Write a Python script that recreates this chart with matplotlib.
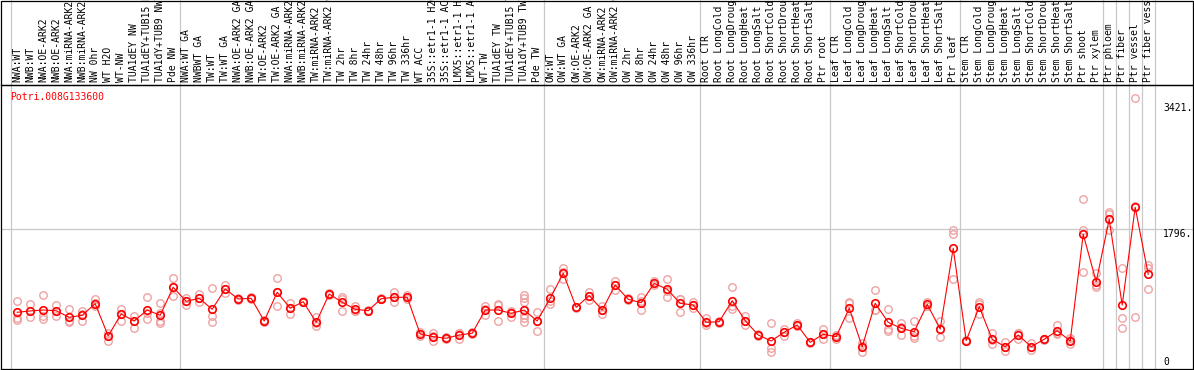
import numpy as np
import matplotlib
matplotlib.use("Agg")
import matplotlib.pyplot as plt
from matplotlib.patches import Rectangle

# sample labels, grouped by tissue block
labels = [
    "NWA:WT", "NWB:WT", "NWA:OE-ARK2", "NWB:OE-ARK2", "NWA:miRNA-ARK2",
    "NWB:miRNA-ARK2", "NW 0hr", "WT H2O", "WT-NW", "TUA1dEY NW",
    "TUA1dEY+TUB15 NW", "TUA1dY+TUB9 NW", "Pde NW",
    "NWA:WT GA", "NWBWT GA", "TW:WT", "TW:WT GA", "NWA:OE-ARK2 GA",
    "NWB:OE-ARK2 GA", "TW:OE-ARK2", "TW:OE-ARK2 GA", "NWA:miRNA-ARK2 GA",
    "NWB:miRNA-ARK2 GA", "TW:miRNA-ARK2", "TW:miRNA-ARK2 GA", "TW 2hr",
    "TW 8hr", "TW 24hr", "TW 48hr", "TW 96hr", "TW 336hr", "WT ACC",
    "35S::etr1-1 H2O", "35S::etr1-1 ACC", "LMX5::etr1-1 H2O",
    "LMX5::etr1-1 ACC", "WT-TW", "TUA1dEY TW", "TUA1dEY+TUB15 TW",
    "TUA1dY+TUB9 TW", "Pde TW",
    "OW:WT", "OW:WT GA", "OW:OE-ARK2", "OW:OE-ARK2 GA", "OW:miRNA-ARK2",
    "OW:miRNA-ARK2 GA", "OW 2hr", "OW 8hr", "OW 24hr", "OW 48hr", "OW 96hr",
    "OW 336hr",
    "Root CTR", "Root LongCold", "Root LongDrought", "Root LongHeat",
    "Root LongSalt", "Root ShortCold", "Root ShortDrought", "Root ShortHeat",
    "Root ShortSalt", "Ptr root",
    "Leaf CTR", "Leaf LongCold", "Leaf LongDrought", "Leaf LongHeat",
    "Leaf LongSalt", "Leaf ShortCold", "Leaf ShortDrought", "Leaf ShortHeat",
    "Leaf ShortSalt", "Ptr leaf",
    "Stem CTR", "Stem LongCold", "Stem LongDrought", "Stem LongHeat",
    "Stem LongSalt", "Stem ShortCold", "Stem ShortDrought", "Stem ShortHeat",
    "Stem ShortSalt", "Ptr shoot", "Ptr xylem",
    "Ptr phloem", "Ptr fiber", "Ptr vessel", "Ptr fiber vessel",
]
group_sizes = [13, 28, 12, 10, 10, 11, 1, 1, 1, 1]

means = [
    713, 730, 742, 733, 648, 674, 824, 406, 691, 600, 742, 674, 1037,
    855, 894, 752, 1015, 885, 894, 600, 972, 765, 850, 583, 950, 842, 752,
    733, 889, 907, 907, 432, 397, 376, 419, 441, 742, 742, 700, 742, 600,
    894, 1218, 777, 930, 742, 1066, 881, 837, 1088, 1011, 829, 807,
    583, 591, 863, 604, 419, 341, 455, 548, 324, 428,
    397, 765, 267, 829, 583, 505, 461, 816, 496, 1542,
    345, 785, 363, 267, 419, 267, 363, 474, 341, 1723, 1109,
    1918, 807, 2073, 1205,
]

reps = [
    [863, 635, 613], [820, 730, 648], [937, 660, 622], [807, 724, 669],
    [752, 600, 591], [733, 685, 604], [885, 829, 798], [444, 406, 345],
    [756, 687, 600], [665, 600, 513], [907, 700, 620], [829, 700, 600, 578],
    [1153, 1037, 924],
    [894, 860, 807], [946, 894, 850], [1024, 665, 583], [1066, 1020, 959],
    [870, 885, 900], [880, 894, 905], [590, 600, 610], [1153, 972, 794],
    [837, 765, 691], [840, 850, 860], [648, 570, 535], [940, 950, 960],
    [907, 885, 733], [798, 733, 725], [725, 733, 740], [880, 889, 898],
    [972, 907, 842], [937, 907, 880], [461, 432, 406], [441, 405, 345],
    [365, 376, 390], [448, 440, 370], [430, 441, 452], [798, 750, 678],
    [815, 807, 604], [730, 720, 648], [937, 894, 850, 742, 678, 635, 591],
    [720, 605, 474],
    [1011, 860, 816], [1283, 1230, 1140], [770, 777, 785], [980, 930, 872],
    [798, 742, 691], [1122, 1070, 1002], [870, 881, 895], [907, 860, 742],
    [1122, 1088, 1066], [1144, 990, 907], [881, 880, 720], [850, 807, 770],
    [635, 570, 548], [580, 591, 600], [1037, 800, 752], [665, 600, 548],
    [410, 419, 428], [570, 246, 202], [492, 455, 406], [570, 548, 530],
    [315, 324, 333], [492, 428, 367],
    [419, 405, 367], [850, 829, 635], [319, 275, 202], [1002, 742, 742],
    [752, 492, 474], [578, 520, 419], [600, 410, 376], [850, 800, 800],
    [600, 490, 397], [1779, 1727, 1140],
    [335, 345, 355], [850, 820, 687], [441, 350, 298], [332, 258, 211],
    [441, 450, 367], [311, 267, 224], [355, 363, 371], [548, 441, 433],
    [376, 350, 298], [2177, 1779, 1231], [1218, 1060, 1044],
    [2016, 1986, 1779], [1283, 635, 505], [3486, 2085, 648],
    [1326, 1291, 1015],
]

ytick_vals = [3421, 1796]
gene = "Potri.008G133600"

W, H = 1194, 370
MONO = "DejaVu Sans Mono"
GRID = "#c8c8c8"

fig = plt.figure(figsize=(W / 100, H / 100), dpi=100)
ax = fig.add_axes([1 / W, 1 / H, 1192 / W, 284 / H])

x = np.arange(len(labels))

# group separators run up through the label strip
bounds = np.concatenate([[0], np.cumsum(group_sizes)]) - 0.5
for b in bounds:
    ax.axvline(b, ymin=0, ymax=369 / 284, color=GRID, lw=0.9,
               clip_on=False, zorder=0)
ax.axhline(1796, color=GRID, lw=0.9, zorder=0)

for i, r in enumerate(reps):
    ax.plot([i] * len(r), r, "o", mfc="none", mec="#eea3a3", ms=5.4, mew=1.0,
            zorder=2)
ax.plot(x, means, "-", color="red", lw=0.8, zorder=3)
ax.plot(x, means, "o", mfc="none", mec="red", ms=5.4, mew=1.2, zorder=4)

ax.set_xlim(-1.246, 90.446)
ax.set_ylim(-22, 3658)

ax.xaxis.tick_top()
ax.set_xticks(x)
ax.set_xticklabels(labels, rotation=90, fontfamily=MONO, fontsize=7)
ax.tick_params(axis="x", length=0, pad=2)
ax.set_yticks([])
for s in ax.spines.values():
    s.set_linewidth(0.9)

for v in ytick_vals:
    ax.text(88.14, v, f"{v}.", va="top", ha="left", fontfamily=MONO,
            fontsize=7)
ax.text(88.14, 25, "0", va="baseline", ha="left", fontfamily=MONO, fontsize=7)

ax.text(-0.55, 3570, gene, va="top", ha="left", color="red",
        fontfamily=MONO, fontsize=7)

# frame around the label strip
fig.add_artist(Rectangle((1 / W, 285 / H), 1192 / W, 84.5 / H,
                         transform=fig.transFigure, fill=False,
                         edgecolor="black", lw=0.9))

fig.savefig("out.png", dpi=100)
